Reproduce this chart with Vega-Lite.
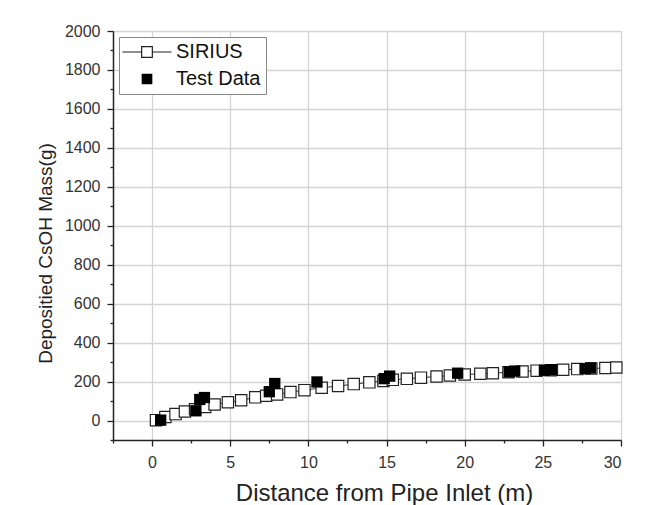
{
  "$schema": "https://vega.github.io/schema/vega-lite/v6.json",
  "autosize": {"type": "none"},
  "padding": {"left": 113, "top": 31, "right": 26, "bottom": 65},
  "width": 508,
  "height": 409,
  "background": "white",
  "config": {
    "view": {"stroke": null},
    "font": "Liberation Sans",
    "axis": {
      "labelFont": "Liberation Sans",
      "titleFont": "Liberation Sans",
      "labelFontSize": 16,
      "titleFontSize": 21,
      "titleFontWeight": "normal",
      "labelColor": "#333333",
      "titleColor": "#222222",
      "domainColor": "#222222",
      "domainWidth": 1.5,
      "tickColor": "#222222",
      "tickWidth": 1.3,
      "gridColor": "#d4d4d4",
      "gridWidth": 1.3
    },
    "legend": {
      "title": null,
      "orient": "top-left",
      "offset": 6,
      "padding": 5,
      "strokeColor": "#888888",
      "fillColor": "white",
      "labelFont": "Liberation Sans",
      "labelFontSize": 20,
      "labelColor": "#111111",
      "symbolSize": 114,
      "symbolOffset": 13,
      "labelOffset": 19,
      "rowPadding": 7,
      "symbolStrokeWidth": 1.2,
      "symbolType": "M-4.6,0H-1M1,0H4.6M-1,-1H1V1H-1Z"
    }
  },
  "data": {
    "values": [
      {"distance": 0.25, "mass": 2, "series": "SIRIUS"},
      {"distance": 0.85, "mass": 18, "series": "SIRIUS"},
      {"distance": 1.5, "mass": 33, "series": "SIRIUS"},
      {"distance": 2.1, "mass": 46, "series": "SIRIUS"},
      {"distance": 2.75, "mass": 58, "series": "SIRIUS"},
      {"distance": 3.4, "mass": 70, "series": "SIRIUS"},
      {"distance": 4.0, "mass": 82, "series": "SIRIUS"},
      {"distance": 4.85, "mass": 94, "series": "SIRIUS"},
      {"distance": 5.7, "mass": 104, "series": "SIRIUS"},
      {"distance": 6.6, "mass": 119, "series": "SIRIUS"},
      {"distance": 7.3, "mass": 127, "series": "SIRIUS"},
      {"distance": 8.0, "mass": 134, "series": "SIRIUS"},
      {"distance": 8.85, "mass": 146, "series": "SIRIUS"},
      {"distance": 9.75, "mass": 156, "series": "SIRIUS"},
      {"distance": 10.85, "mass": 168, "series": "SIRIUS"},
      {"distance": 11.9, "mass": 177, "series": "SIRIUS"},
      {"distance": 12.9, "mass": 187, "series": "SIRIUS"},
      {"distance": 13.9, "mass": 196, "series": "SIRIUS"},
      {"distance": 14.8, "mass": 203, "series": "SIRIUS"},
      {"distance": 15.4, "mass": 209, "series": "SIRIUS"},
      {"distance": 16.3, "mass": 214, "series": "SIRIUS"},
      {"distance": 17.2, "mass": 220, "series": "SIRIUS"},
      {"distance": 18.2, "mass": 226, "series": "SIRIUS"},
      {"distance": 19.05, "mass": 231, "series": "SIRIUS"},
      {"distance": 20.0, "mass": 236, "series": "SIRIUS"},
      {"distance": 21.0, "mass": 240, "series": "SIRIUS"},
      {"distance": 21.8, "mass": 243, "series": "SIRIUS"},
      {"distance": 22.8, "mass": 248, "series": "SIRIUS"},
      {"distance": 23.7, "mass": 252, "series": "SIRIUS"},
      {"distance": 24.6, "mass": 256, "series": "SIRIUS"},
      {"distance": 25.5, "mass": 258, "series": "SIRIUS"},
      {"distance": 26.3, "mass": 261, "series": "SIRIUS"},
      {"distance": 27.2, "mass": 264, "series": "SIRIUS"},
      {"distance": 28.1, "mass": 267, "series": "SIRIUS"},
      {"distance": 29.0, "mass": 270, "series": "SIRIUS"},
      {"distance": 29.7, "mass": 272, "series": "SIRIUS"},
      {"distance": 0.55, "mass": 2, "series": "Test Data"},
      {"distance": 2.8, "mass": 50, "series": "Test Data"},
      {"distance": 3.05, "mass": 108, "series": "Test Data"},
      {"distance": 3.35, "mass": 118, "series": "Test Data"},
      {"distance": 7.5, "mass": 148, "series": "Test Data"},
      {"distance": 7.85, "mass": 190, "series": "Test Data"},
      {"distance": 10.55, "mass": 198, "series": "Test Data"},
      {"distance": 14.85, "mass": 215, "series": "Test Data"},
      {"distance": 15.2, "mass": 228, "series": "Test Data"},
      {"distance": 19.55, "mass": 243, "series": "Test Data"},
      {"distance": 22.85, "mass": 250, "series": "Test Data"},
      {"distance": 23.2, "mass": 254, "series": "Test Data"},
      {"distance": 25.1, "mass": 258, "series": "Test Data"},
      {"distance": 25.55, "mass": 261, "series": "Test Data"},
      {"distance": 27.7, "mass": 266, "series": "Test Data"},
      {"distance": 28.05, "mass": 270, "series": "Test Data"}
    ]
  },
  "encoding": {
    "x": {
      "field": "distance",
      "type": "quantitative",
      "scale": {"domain": [-2.5, 30], "nice": false, "zero": false},
      "axis": {
        "title": "Distance from Pipe Inlet (m)",
        "titleFontSize": 24,
        "titleX": 271,
        "titleAlign": "center",
        "values": [-2.5, 0, 2.5, 5, 7.5, 10, 12.5, 15, 17.5, 20, 22.5, 25, 27.5, 30],
        "labelExpr": "datum.value % 5 === 0 ? datum.label : ''",
        "tickSize": {"condition": {"test": "datum.value % 5 === 0", "value": 6}, "value": 3},
        "gridOpacity": {"condition": {"test": "datum.value % 5 === 0", "value": 1}, "value": 0},
        "labelPadding": 8,
        "titlePadding": 11
      }
    },
    "y": {
      "field": "mass",
      "type": "quantitative",
      "scale": {"domain": [-100, 2000], "nice": false, "zero": false},
      "axis": {
        "title": "Depositied CsOH Mass(g)",
        "titleFontSize": 19,
        "titleY": 222,
        "titleAlign": "center",
        "values": [-100, 0, 100, 200, 300, 400, 500, 600, 700, 800, 900, 1000, 1100, 1200, 1300, 1400, 1500, 1600, 1700, 1800, 1900, 2000],
        "labelExpr": "(datum.value % 200 === 0 && datum.value >= 0) ? datum.label : ''",
        "format": "d",
        "tickSize": {"condition": {"test": "datum.value % 200 === 0", "value": 6}, "value": 3},
        "gridOpacity": {"condition": {"test": "datum.value % 200 === 0 && datum.value >= 0", "value": 1}, "value": 0},
        "labelPadding": 7,
        "titlePadding": 9
      }
    }
  },
  "layer": [
    {
      "transform": [{"filter": "datum.series === 'SIRIUS'"}],
      "mark": {"type": "line", "color": "#333333", "strokeWidth": 1},
      "encoding": {}
    },
    {
      "mark": {"type": "point", "shape": "square", "filled": true, "size": 128, "strokeWidth": 1.2, "opacity": 1},
      "encoding": {
        "fill": {
          "field": "series",
          "type": "nominal",
          "scale": {"domain": ["SIRIUS", "Test Data"], "range": ["white", "black"]},
          "legend": {"symbolType": "M-4.6,0H-1M1,0H4.6M-1,-1H1V1H-1Z"}
        },
        "stroke": {
          "field": "series",
          "type": "nominal",
          "scale": {"domain": ["SIRIUS", "Test Data"], "range": ["#222222", "transparent"]},
          "legend": {"symbolType": "M-4.6,0H-1M1,0H4.6M-1,-1H1V1H-1Z"}
        }
      }
    }
  ]
}
